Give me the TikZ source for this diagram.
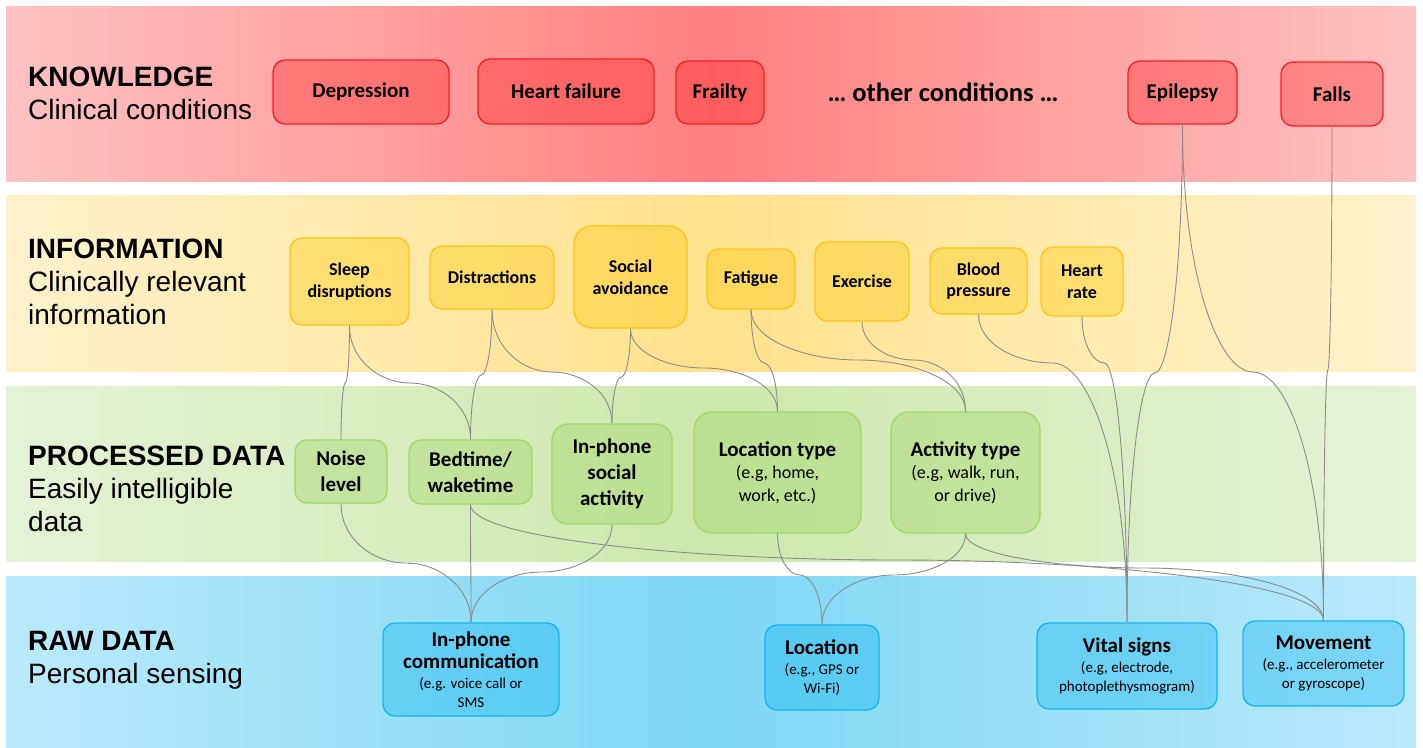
\documentclass[tikz,border=0pt]{standalone}
\usepackage{fontspec}
\setmainfont{Carlito}
\newfontfamily\arialf{Liberation Sans}
\usetikzlibrary{calc}
\definecolor{redL}{RGB}{255,194,194}
\definecolor{redM}{RGB}{255,128,128}
\definecolor{yelL}{RGB}{255,242,204}
\definecolor{yelM}{RGB}{255,225,140}
\definecolor{grnL}{RGB}{228,242,214}
\definecolor{grnM}{RGB}{204,232,172}
\definecolor{bluL}{RGB}{186,234,250}
\definecolor{bluM}{RGB}{125,215,245}
\definecolor{rFill}{RGB}{255,0,0}
\definecolor{rLine}{RGB}{255,30,30}
\definecolor{yFill}{RGB}{255,200,0}
\definecolor{yLine}{RGB}{255,196,20}
\definecolor{gFill}{RGB}{146,208,80}
\definecolor{gLine}{RGB}{160,216,100}
\definecolor{bFill}{RGB}{0,176,240}
\definecolor{bLine}{RGB}{20,180,240}
\definecolor{lnGray}{RGB}{140,140,140}
\tikzset{
  box/.style={rounded corners=12pt, line width=1.3pt, align=center, inner sep=0pt, text opacity=1},
  rbox/.style={box, draw=rLine, fill=rFill, fill opacity=0.27, font=\fontsize{21}{25}\selectfont\bfseries},
  ybox/.style={box, draw=yLine, fill=yFill, fill opacity=0.35, font=\fontsize{18}{21.5}\selectfont\bfseries},
  gbox/.style={box, draw=gLine, fill=gFill, fill opacity=0.30, font=\fontsize{21}{26}\selectfont\bfseries},
  gsub/.style={box, draw=gLine, fill=gFill, fill opacity=0.30, font=\fontsize{18}{22.5}\selectfont},
  bbox/.style={box, draw=bLine, fill=bFill, fill opacity=0.33, font=\fontsize{15}{19}\selectfont},
  lab/.style={anchor=base west, inner sep=0pt, font=\arialf\fontsize{28}{33}\selectfont},
  conn/.style={draw=lnGray, line width=0.9pt},
  via/.style={to path={
    let \p1=(\tikztostart), \p2=(\tikztotarget),
        \n1={0.5*(\x1+\x2)}, \n2={-(#1)*1pt}
    in .. controls (\x1, {\y1+0.6*(\n2-(\y1))}) and ({\x1+0.5*(\n1-(\x1))}, \n2) .. (\n1, \n2)
       .. controls ({\n1+0.5*(\x2-(\n1))}, \n2) and (\x2, {\y2+0.6*(\n2-(\y2))}) .. (\tikztotarget) \tikztonodes
  }}
}
\newcommand\ttl[1]{{\fontsize{21}{22}\selectfont\bfseries #1}}
\begin{document}
\begin{tikzpicture}[x=1pt,y=-1pt]
\useasboundingbox (0,0) rectangle (1423,747);
\fill[white] (0,0) rectangle (1423,747);
% bands
\shade[left color=redL, right color=redL, middle color=redM] (6,6) rectangle (1416,181);
\shade[left color=yelL, right color=yelL, middle color=yelM] (6,195) rectangle (1416,371);
\shade[left color=grnL, right color=grnL, middle color=grnM] (6,386) rectangle (1416,561);
\shade[left color=bluL, right color=bluL, middle color=bluM] (6,576) rectangle (1416,747);
% left labels
\node[lab] (k1) at (28,86) {\bfseries KNOWLEDGE};
\node[lab] (k2) at (28,119) {Clinical conditions};
\node[lab] (i1) at (28,258) {\bfseries INFORMATION};
\node[lab] (i2) at (28,291) {Clinically relevant};
\node[lab] (i3) at (28,324) {information};
\node[lab] (p1) at (28,465) {\bfseries PROCESSED DATA};
\node[lab] (p2) at (28,498) {Easily intelligible};
\node[lab] (p3) at (28,531) {data};
\node[lab] (r1) at (28,650) {\bfseries RAW DATA};
\node[lab] (r2) at (28,683) {Personal sensing};
% knowledge
\node[rbox, minimum width=176pt, minimum height=64pt] (dep) at (361,92) {Depression};
\node[rbox, minimum width=176pt, minimum height=65pt] (hf) at (566,91.5) {Heart failure};
\node[rbox, minimum width=88pt, minimum height=63pt] (fra) at (720,92.5) {Frailty};
\node[inner sep=0pt, font=\fontsize{26.5}{30}\selectfont\bfseries] (oth) at (943,92) {… other conditions …};
\node[rbox, minimum width=109pt, minimum height=63pt] (epi) at (1182.5,92.5) {Epilepsy};
\node[rbox, minimum width=102pt, minimum height=64pt] (falls) at (1332,94) {Falls};
% information
\node[ybox, minimum width=119pt, minimum height=87pt] (sleep) at (349.5,281.5) {Sleep\\disruptions};
\node[ybox, minimum width=124pt, minimum height=63pt] (dist) at (492,277.5) {Distractions};
\node[ybox, minimum width=113pt, minimum height=102pt, rounded corners=18pt] (soc) at (630.5,277) {Social\\avoidance};
\node[ybox, minimum width=88pt, minimum height=60pt] (fat) at (751,279) {Fatigue};
\node[ybox, minimum width=94pt, minimum height=79pt] (exe) at (862,281.5) {Exercise};
\node[ybox, minimum width=97pt, minimum height=66pt] (bp) at (978.5,281) {Blood\\pressure};
\node[ybox, minimum width=82pt, minimum height=69pt] (hr) at (1082,281.5) {Heart\\rate};
% processed
\node[gbox, minimum width=92pt, minimum height=63pt] (noise) at (341,471.5) {Noise\\level};
\node[gbox, minimum width=123pt, minimum height=64pt] (bed) at (470.5,472) {Bedtime/\\waketime};
\node[gbox, minimum width=120pt, minimum height=100pt, rounded corners=16pt] (ins) at (612,474) {In-phone\\social\\activity};
\node[gsub, minimum width=167pt, minimum height=121pt, rounded corners=18pt] (loct) at (777.5,472.5) {\ttl{Location type}\\(e.g, home,\\work, etc.)};
\node[gsub, minimum width=149pt, minimum height=121pt, rounded corners=18pt] (act) at (965.5,472.5) {\ttl{Activity type}\\(e.g, walk, run,\\or drive)};
% raw
\node[bbox, minimum width=176pt, minimum height=93pt] (comm) at (471,669.5) {\ttl{In-phone}\\[3pt]\ttl{communication}\\[1pt](e.g. voice call or\\SMS};
\node[bbox, minimum width=114pt, minimum height=85pt] (loc) at (822,667.5) {\ttl{Location}\\[1pt](e.g., GPS or\\Wi-Fi)};
\node[bbox, minimum width=180pt, minimum height=86pt] (vit) at (1127,666) {\ttl{Vital signs}\\[1pt](e.g, electrode,\\photoplethysmogram)};
\node[bbox, minimum width=161pt, minimum height=85pt] (mov) at (1323.5,663.5) {\ttl{Movement}\\[1pt](e.g., accelerometer\\or gyroscope)};
% connectors
\draw[conn] (sleep.south) to[via=383] (noise.north);
\draw[conn] (sleep.south) to[via=383] (bed.north);
\draw[conn] (dist.south) to[via=375] (bed.north);
\draw[conn] (dist.south) to[via=372] (ins.north);
\draw[conn] (soc.south) to[via=377] (ins.north);
\draw[conn] (soc.south) to[via=368] (loct.north);
\draw[conn] (fat.south) to[via=363] (loct.north);
\draw[conn] (fat.south) to[via=360] (act.north);
\draw[conn] (exe.south) to[via=360] (act.north);
\draw[conn] (bp.south) to[via=363] (vit.north);
\draw[conn] (hr.south) to[via=363] (vit.north);
\draw[conn] (epi.south) to[via=373] (vit.north);
\draw[conn] (epi.south) to[via=372] (mov.north);
\draw[conn] (falls.south) to[via=370] (mov.north);
\draw[conn] (noise.south) to[via=563] (comm.north);
\draw[conn] (bed.south) to[via=565] (comm.north);
\draw[conn] (ins.south) to[via=572] (comm.north);
\draw[conn] (bed.south) to[via=560] (mov.north);
\draw[conn] (loct.south) to[via=575] (loc.north);
\draw[conn] (act.south) to[via=575] (loc.north);
\draw[conn] (act.south) to[via=568] (mov.north);
\end{tikzpicture}
\end{document}
